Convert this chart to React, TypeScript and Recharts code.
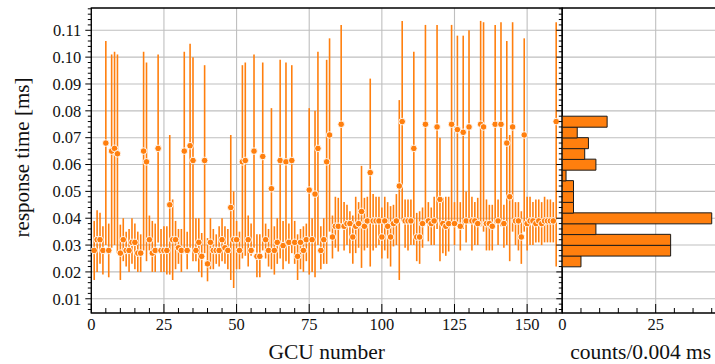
import React from 'react';
import {
  ScatterChart,
  Scatter,
  ComposedChart,
  Bar,
  XAxis,
  YAxis,
  ErrorBar,
  CartesianGrid,
  ReferenceArea,
} from 'recharts';

// GCU index 1..160
const gcu = Array.from({ length: 160 }, (_, i) => i + 1);

// response time per GCU [ms] (marker position)
const respTime = [
  0.028, 0.032, 0.032, 0.028, 0.068, 0.028, 0.065, 0.066, 0.064, 0.027,
  0.032, 0.028, 0.028, 0.031, 0.031, 0.027, 0.027, 0.065, 0.061, 0.032,
  0.027, 0.028, 0.066, 0.028, 0.028, 0.028, 0.045, 0.032, 0.032, 0.029,
  0.028, 0.065, 0.028, 0.067, 0.0615, 0.028, 0.031, 0.0258, 0.0615, 0.023,
  0.031, 0.028, 0.028, 0.028, 0.032, 0.029, 0.028, 0.044, 0.032, 0.032,
  0.028, 0.061, 0.0615, 0.032, 0.028, 0.065, 0.0258, 0.0258, 0.063, 0.032,
  0.028, 0.051, 0.028, 0.031, 0.0615, 0.0298, 0.061, 0.031, 0.0615, 0.031,
  0.0258, 0.031, 0.028, 0.032, 0.0505, 0.032, 0.049, 0.066, 0.028, 0.032,
  0.061, 0.071, 0.033, 0.037, 0.037, 0.075, 0.037, 0.038, 0.038, 0.033,
  0.037, 0.038, 0.0425, 0.037, 0.039, 0.057, 0.039, 0.039, 0.039, 0.033,
  0.039, 0.037, 0.033, 0.038, 0.039, 0.052, 0.076, 0.039, 0.039, 0.039,
  0.066, 0.033, 0.033, 0.038, 0.075, 0.039, 0.038, 0.039, 0.074, 0.047,
  0.038, 0.037, 0.038, 0.075, 0.038, 0.073, 0.037, 0.072, 0.039, 0.074,
  0.039, 0.039, 0.038, 0.075, 0.074, 0.038, 0.038, 0.037, 0.075, 0.039,
  0.075, 0.038, 0.068, 0.048, 0.074, 0.039, 0.039, 0.033, 0.071, 0.038,
  0.039, 0.039, 0.038, 0.039, 0.038, 0.039, 0.039, 0.039, 0.039, 0.076,
];

// lower end of the error bar [ms]
const respLow = [
  0.017, 0.020, 0.023, 0.019, 0.030, 0.018, 0.029, 0.030, 0.027, 0.017,
  0.024, 0.022, 0.020, 0.023, 0.021, 0.020, 0.020, 0.028, 0.024, 0.028,
  0.020, 0.020, 0.031, 0.020, 0.020, 0.019, 0.019, 0.017, 0.021, 0.023,
  0.020, 0.028, 0.021, 0.029, 0.024, 0.024, 0.020, 0.018, 0.027, 0.0165,
  0.021, 0.021, 0.023, 0.022, 0.024, 0.023, 0.021, 0.017, 0.014, 0.021,
  0.021, 0.025, 0.026, 0.022, 0.026, 0.029, 0.018, 0.018, 0.028, 0.025,
  0.022, 0.021, 0.019, 0.023, 0.025, 0.021, 0.024, 0.023, 0.027, 0.023,
  0.017, 0.021, 0.020, 0.024, 0.019, 0.020, 0.018, 0.030, 0.021, 0.023,
  0.023, 0.035, 0.025, 0.029, 0.0276, 0.038, 0.028, 0.030, 0.027, 0.023,
  0.027, 0.029, 0.0215, 0.028, 0.029, 0.022, 0.028, 0.029, 0.030, 0.025,
  0.028, 0.025, 0.022, 0.0295, 0.030, 0.017, 0.039, 0.029, 0.028, 0.030,
  0.030, 0.024, 0.023, 0.029, 0.038, 0.0314, 0.030, 0.030, 0.036, 0.024,
  0.027, 0.026, 0.0276, 0.038, 0.030, 0.038, 0.028, 0.036, 0.031, 0.038,
  0.028, 0.030, 0.030, 0.037, 0.035, 0.028, 0.028, 0.028, 0.038, 0.030,
  0.037, 0.029, 0.030, 0.024, 0.035, 0.030, 0.028, 0.023, 0.035, 0.028,
  0.030, 0.030, 0.031, 0.031, 0.030, 0.031, 0.031, 0.031, 0.031, 0.022,
];

// upper end of the error bar [ms]
const respHigh = [
  0.039, 0.043, 0.042, 0.037, 0.106, 0.038, 0.101, 0.102, 0.101, 0.0376,
  0.040, 0.035, 0.036, 0.040, 0.038, 0.035, 0.034, 0.102, 0.098, 0.041,
  0.039, 0.038, 0.101, 0.036, 0.037, 0.037, 0.071, 0.047, 0.039, 0.036,
  0.036, 0.102, 0.035, 0.105, 0.100, 0.040, 0.040, 0.0345, 0.097, 0.0326,
  0.040, 0.036, 0.034, 0.037, 0.040, 0.037, 0.036, 0.071, 0.050, 0.039,
  0.035, 0.097, 0.098, 0.041, 0.038, 0.101, 0.034, 0.034, 0.098, 0.038,
  0.036, 0.081, 0.037, 0.040, 0.099, 0.039, 0.098, 0.038, 0.097, 0.039,
  0.034, 0.036, 0.037, 0.038, 0.081, 0.040, 0.080, 0.102, 0.037, 0.040,
  0.099, 0.107, 0.041, 0.048, 0.0476, 0.112, 0.046, 0.045, 0.0426, 0.041,
  0.048, 0.046, 0.0595, 0.0476, 0.048, 0.092, 0.049, 0.048, 0.048, 0.044,
  0.048, 0.046, 0.0445, 0.045, 0.049, 0.084, 0.1135, 0.047, 0.047, 0.047,
  0.102, 0.042, 0.0426, 0.044, 0.112, 0.046, 0.044, 0.048, 0.112, 0.070,
  0.0476, 0.048, 0.048, 0.112, 0.046, 0.108, 0.046, 0.108, 0.050, 0.110,
  0.048, 0.046, 0.0476, 0.1135, 0.113, 0.047, 0.045, 0.045, 0.112, 0.047,
  0.113, 0.045, 0.106, 0.071, 0.113, 0.046, 0.046, 0.0426, 0.107, 0.048,
  0.048, 0.046, 0.047, 0.047, 0.046, 0.048, 0.047, 0.047, 0.046, 0.113,
];

// histogram of response times, bins of 0.004 ms
const binCenters = [0.024, 0.028, 0.032, 0.036, 0.040, 0.044, 0.048, 0.052, 0.056, 0.060, 0.064, 0.068, 0.072, 0.076];
const binCounts = [5, 29, 29, 9, 40, 3, 3, 3, 1, 9, 6, 7, 4, 12];

const yMajorTicks = [0.01, 0.02, 0.03, 0.04, 0.05, 0.06, 0.07, 0.08, 0.09, 0.10, 0.11];
const xMajorTicks = [0, 25, 50, 75, 100, 125, 150];
const xTicks = [0, 5, 10, 15, 20, 25, 30, 35, 40, 45, 50, 55, 60, 65, 70, 75, 80, 85, 90, 95, 100, 105, 110, 115, 120, 125, 130, 135, 140, 145, 150, 155, 160];
const histMajorTicks = [0, 25];
const histTicks = [0, 5, 10, 15, 20, 25, 30, 35, 40];

// minor y ticks every 0.002 ms
const yTicks: number[] = [];
for (let k = 3; k <= 59; k++) yTicks.push(k / 500);

const Y_MIN = 0.0047;
const Y_MAX = 0.1183;
const X_MAX = 162;
const H_MAX = 42;

const ORANGE = '#ff7f0e';
const FONT = '"Liberation Serif", "DejaVu Serif", serif';
const GRID = '#bfbfbf';
const TEXT = '#111';

const points = gcu.map((x, i) => ({
  x,
  y: respTime[i],
  err: [respTime[i] - respLow[i], respHigh[i] - respTime[i]],
}));

const hist = binCenters.map((mid, i) => ({ mid, count: binCounts[i] }));

const isMajor = (v: number, majors: number[]) => majors.some(m => Math.abs(m - v) < 1e-7);

// bottom axis: ticks point inward (up), labels below
function XTick(props: any) {
  const { x, y, payload, majors } = props;
  const major = isMajor(payload.value, majors);
  return (
    <g>
      <line x1={x} x2={x} y1={y} y2={y - (major ? 9 : 5)} stroke="#000" strokeWidth={1} />
      {major && (
        <text x={x} y={y + 17} textAnchor="middle" fontFamily={FONT} fontSize={16.5} fill={TEXT}>
          {payload.value}
        </text>
      )}
    </g>
  );
}

// left axis: ticks point outward (left)
function YTick(props: any) {
  const { x, y, payload, showLabel } = props;
  const major = isMajor(payload.value, yMajorTicks);
  return (
    <g>
      <line x1={x} x2={x - (major ? 6 : 3.5)} y1={y} y2={y} stroke="#000" strokeWidth={1} />
      {major && showLabel && (
        <text x={x - 10} y={y} dy={5.8} textAnchor="end" fontFamily={FONT} fontSize={16.5} fill={TEXT}>
          {payload.value.toFixed(2)}
        </text>
      )}
    </g>
  );
}

const renderDot = (p: any) => (
  <circle cx={p.cx} cy={p.cy} r={3.3} fill={ORANGE} stroke="#fff" strokeWidth={0.9} />
);

const xLabel = (text: string) => (props: any) => {
  const vb = props.viewBox;
  return (
    <text x={vb.x + vb.width / 2} y={vb.y + 45.5} textAnchor="middle" fontFamily={FONT} fontSize={21.5} fill={TEXT}>
      {text}
    </text>
  );
};

const yLabel = (props: any) => {
  const vb = props.viewBox;
  const cy = vb.y + vb.height / 2 - 3;
  return (
    <text transform={`translate(28.5, ${cy}) rotate(-90)`} textAnchor="middle" fontFamily={FONT} fontSize={21} fill={TEXT}>
      response time [ms]
    </text>
  );
};

export default function App() {
  return (
    <div style={{ position: 'absolute', left: 0, top: 0, width: 715, height: 364, overflow: 'hidden', background: '#fff' }}>
      {/* response time per GCU */}
      <div style={{ position: 'absolute', left: 0, top: 0 }}>
        <ScatterChart width={563} height={364} margin={{ top: 8, right: 1, bottom: 0, left: 0 }}>
          <CartesianGrid horizontalValues={yMajorTicks} verticalValues={xMajorTicks} stroke={GRID} strokeWidth={1.1} />
          <XAxis
            type="number"
            dataKey="x"
            domain={[0, X_MAX]}
            allowDataOverflow
            ticks={xTicks}
            interval={0}
            tick={<XTick majors={xMajorTicks} />}
            tickLine={false}
            axisLine={false}
            tickSize={0}
            tickMargin={0}
            height={51}
            label={xLabel('GCU number')}
          />
          <YAxis
            type="number"
            dataKey="y"
            domain={[Y_MIN, Y_MAX]}
            allowDataOverflow
            ticks={yTicks}
            interval={0}
            tick={<YTick showLabel />}
            tickLine={false}
            axisLine={false}
            tickSize={0}
            tickMargin={0}
            width={91.3}
            label={yLabel}
          />
          <Scatter data={points} shape={renderDot} isAnimationActive={false}>
            <ErrorBar dataKey="err" direction="y" width={0} stroke={ORANGE} strokeWidth={1.6} isAnimationActive={false} />
          </Scatter>
          <ReferenceArea x1={0} x2={X_MAX} y1={Y_MIN} y2={Y_MAX} fill="none" stroke="#000" strokeWidth={1.3} ifOverflow="visible" />
        </ScatterChart>
      </div>

      {/* histogram */}
      <div style={{ position: 'absolute', left: 540, top: 0 }}>
        <ComposedChart
          layout="vertical"
          width={185}
          height={364}
          data={hist}
          barCategoryGap={0}
          margin={{ top: 8, right: 5.8, bottom: 0, left: 0 }}
        >
          <CartesianGrid horizontalValues={yMajorTicks} verticalValues={histMajorTicks} stroke={GRID} strokeWidth={1.1} />
          <XAxis
            type="number"
            domain={[0, H_MAX]}
            allowDataOverflow
            ticks={histTicks}
            interval={0}
            tick={<XTick majors={histMajorTicks} />}
            tickLine={false}
            axisLine={false}
            tickSize={0}
            tickMargin={0}
            height={51}
            label={xLabel('counts/0.004 ms')}
          />
          <YAxis
            type="number"
            dataKey="mid"
            domain={[Y_MIN, Y_MAX]}
            allowDataOverflow
            reversed
            ticks={yTicks}
            interval={0}
            tick={<YTick showLabel={false} />}
            tickLine={false}
            axisLine={false}
            tickSize={0}
            tickMargin={0}
            width={22.3}
          />
          <Bar dataKey="count" fill={ORANGE} stroke="#1a1a1a" strokeWidth={1} isAnimationActive={false} />
          <ReferenceArea x1={0} x2={H_MAX} y1={Y_MIN} y2={Y_MAX} fill="none" stroke="#000" strokeWidth={1.3} ifOverflow="visible" />
        </ComposedChart>
      </div>
    </div>
  );
}
